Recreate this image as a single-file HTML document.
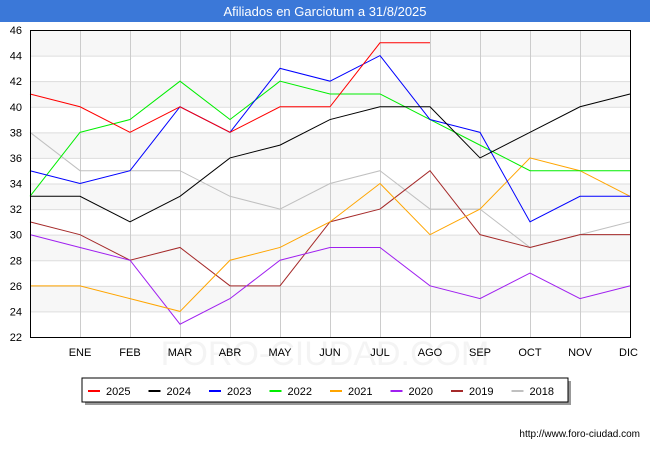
<!DOCTYPE html>
<html><head><meta charset="utf-8"><style>
body{margin:0;width:650px;height:450px;background:#fff;font-family:"Liberation Sans",sans-serif;overflow:hidden}
svg{display:block}
</style></head><body>
<svg id="c" width="650" height="450">
<rect x="0" y="0" width="650" height="22" fill="#3b78d8"/>
<text x="325" y="16" text-anchor="middle" font-size="13" fill="#fff">Afiliados en Garciotum a 31/8/2025</text>
<g id="grid"></g>
<text x="325" y="365" text-anchor="middle" font-size="34" fill="#f4f4f4">FORO-CIUDAD.COM</text>
<g id="series"></g><g id="axes"></g>
<rect x="30.5" y="30.5" width="600" height="307" fill="none" stroke="#000"/>
<rect x="85" y="381" width="486" height="24" fill="#999"/>
<rect x="82" y="378" width="486" height="24" fill="#fff" stroke="#000"/>
<g id="legend"></g>
<text x="640" y="437" text-anchor="end" font-size="10" fill="#000">http://www.foro-ciudad.com</text>
</svg>
<script>
const months=["","ENE","FEB","MAR","ABR","MAY","JUN","JUL","AGO","SEP","OCT","NOV","DIC"];
const yTicks=[22,24,26,28,30,32,34,36,38,40,42,44,46];
const seriesNames=["2025","2024","2023","2022","2021","2020","2019","2018"];
const seriesColors=["#ff0000","#000000","#0000ff","#00ee00","#ffa500","#a020f0","#a52a2a","#c0c0c0"];
const s2025=[41,40,38,40,38,40,40,45,45];
const s2024=[33,33,31,33,36,37,39,40,40,36,38,40,41];
const s2023=[35,34,35,40,38,43,42,44,39,38,31,33,33];
const s2022=[33,38,39,42,39,42,41,41,39,37,35,35,35];
const s2021=[26,26,25,24,28,29,31,34,30,32,36,35,33];
const s2020=[30,29,28,23,25,28,29,29,26,25,27,25,26];
const s2019=[31,30,28,29,26,26,31,32,35,30,29,30,30];
const s2018=[38,35,35,35,33,32,34,35,32,32,29,30,31];
const allSeries=[s2025,s2024,s2023,s2022,s2021,s2020,s2019,s2018];
const NS="http://www.w3.org/2000/svg";
const x=i=>30+i*50, y=v=>337-(v-22)*(307/24);
function mk(t,a,p){const e=document.createElementNS(NS,t);for(const k in a)e.setAttribute(k,a[k]);p.appendChild(e);return e;}
const grid=document.getElementById('grid'),axes=document.getElementById('axes'),ser=document.getElementById('series'),leg=document.getElementById('legend');
for(let i=0;i<yTicks.length-1;i++){
  if(i%2===1){const b=mk('rect',{x:30,y:y(yTicks[i+1]),width:600,height:y(yTicks[i])-y(yTicks[i+1]),fill:'#f7f7f7'},grid);
  
  }
}
yTicks.forEach(v=>{
  const l=mk('line',{x1:30,x2:630,y1:y(v)+0.5,y2:y(v)+0.5,stroke:'#ddd'},grid);
  
  
  const t=mk('text',{x:22,y:y(v)+4,'text-anchor':'end','font-size':11},axes);t.textContent=v;
  
  
});
months.forEach((m,i)=>{
  if(i===0)return;
  const l=mk('line',{x1:x(i)+0.5,x2:x(i)+0.5,y1:30,y2:337,stroke:'#ccc'},grid);
  
  
  const t=mk('text',{x:x(i),y:356,'text-anchor':i===12?'end':'middle','font-size':11},axes);t.textContent=m;
  if(i===12)t.setAttribute('x',x(i)+8);
  
  
});
for(let s=allSeries.length-1;s>=0;s--){
  const pts=allSeries[s].map((v,i)=>x(i)+','+y(v)).join(' ');
  const p=mk('polyline',{points:pts,fill:'none',stroke:seriesColors[s],'stroke-width':1},ser);
  
  
}
seriesNames.forEach((n,i)=>{
  const lx=88+i*60.5;
  const l=mk('line',{x1:lx,x2:lx+12,y1:391,y2:391,stroke:seriesColors[i],'stroke-width':2},leg);
  
  
  const t=mk('text',{x:lx+18,y:395,'font-size':11},leg);t.textContent=n;
  
  
});
</script>
</body></html>
